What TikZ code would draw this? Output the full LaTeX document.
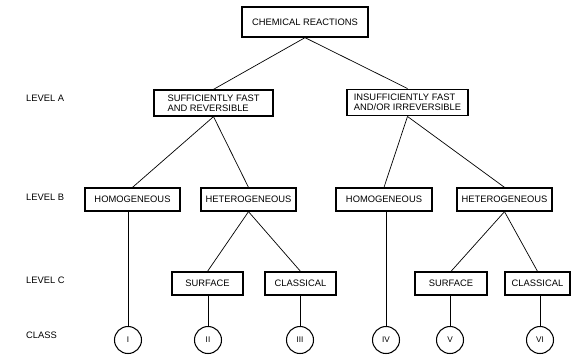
\documentclass[tikz,border=0pt]{standalone}
\usepackage{fontspec}
\setmainfont{Liberation Sans}
\begin{document}
\begin{tikzpicture}[x=0.03cm,y=-0.03cm,
		box/.style={draw,line width=1.1pt,inner sep=0pt,minimum height=0.69cm,font=\fontsize{8}{8.6}\selectfont},
		levellabel/.style={anchor=west,font=\fontsize{8}{8.6}\selectfont},
		classcircle/.style={draw,circle,line width=0.9pt,minimum size=0.81cm,inner sep=0pt,font=\fontsize{7}{8}\selectfont},
		link/.style={line width=0.6pt}]
		%Outer frame
		\useasboundingbox (0,0) rectangle (572,356);
		%Level labels on the left
		\node [levellabel] (levA) at (22,98) {LEVEL A};
		\node [levellabel] (levB) at (22,197) {LEVEL B};
		\node [levellabel] (levC) at (22,280) {LEVEL C};
		\node [levellabel] (levClass) at (22,335) {CLASS};
		%Root
		\node [box,minimum width=3.78cm,minimum height=0.9cm] (top) at (305,22) {CHEMICAL REACTIONS};
		%Level A
		\node [box,minimum width=3.57cm,minimum height=0.78cm,align=left] (a1) at (213.5,103) {SUFFICIENTLY FAST\\AND REVERSIBLE};
		\node [box,minimum width=3.63cm,minimum height=0.8cm,align=left] (a2) at (407.5,102.5) {INSUFFICIENTLY FAST\\AND/OR IRREVERSIBLE};
		%Level B
		\node [box,minimum width=2.85cm] (b1) at (132.5,199.5) {HOMOGENEOUS};
		\node [box,minimum width=2.85cm] (b2) at (248.5,199.5) {HETEROGENEOUS};
		\node [box,minimum width=2.88cm] (b3) at (384,199.5) {HOMOGENEOUS};
		\node [box,minimum width=2.85cm] (b4) at (504.5,199.5) {HETEROGENEOUS};
		%Level C
		\node [box,minimum width=2.13cm] (c1) at (207.5,283.5) {SURFACE};
		\node [box,minimum width=2.13cm] (c2) at (300.5,283.5) {CLASSICAL};
		\node [box,minimum width=2.16cm] (c3) at (451,283.5) {SURFACE};
		\node [box,minimum width=1.95cm] (c4) at (537.5,283.5) {CLASSICAL};
		%Classes
		\node [classcircle] (class1) at (128,340) {I};
		\node [classcircle] (class2) at (208,340) {II};
		\node [classcircle] (class3) at (300,340) {III};
		\node [classcircle] (class4) at (386,340) {IV};
		\node [classcircle] (class5) at (450,340) {V};
		\node [classcircle] (class6) at (540,340) {VI};
		%Tree lines
		\draw [link] (top.south) -- (a1.north);
		\draw [link] (top.south) -- (a2.north);
		\draw [link] (a1.south) -- (b1.north);
		\draw [link] (a1.south) -- (b2.north);
		\draw [link] (a2.south) -- (b3.north);
		\draw [link] (a2.south) -- (b4.north);
		\draw [link] (b2.south) -- (c1.north);
		\draw [link] (b2.south) -- (c2.north);
		\draw [link] (b4.south) -- (c3.north);
		\draw [link] (b4.south) -- (c4.north);
		%Vertical lines down to the classes
		\draw [link] (b1.south -| class1) -- (class1.north);
		\draw [link] (c1.south -| class2) -- (class2.north);
		\draw [link] (c2.south -| class3) -- (class3.north);
		\draw [link] (b3.south -| class4) -- (class4.north);
		\draw [link] (c3.south -| class5) -- (class5.north);
		\draw [link] (c4.south -| class6) -- (class6.north);
\end{tikzpicture}
\end{document}
